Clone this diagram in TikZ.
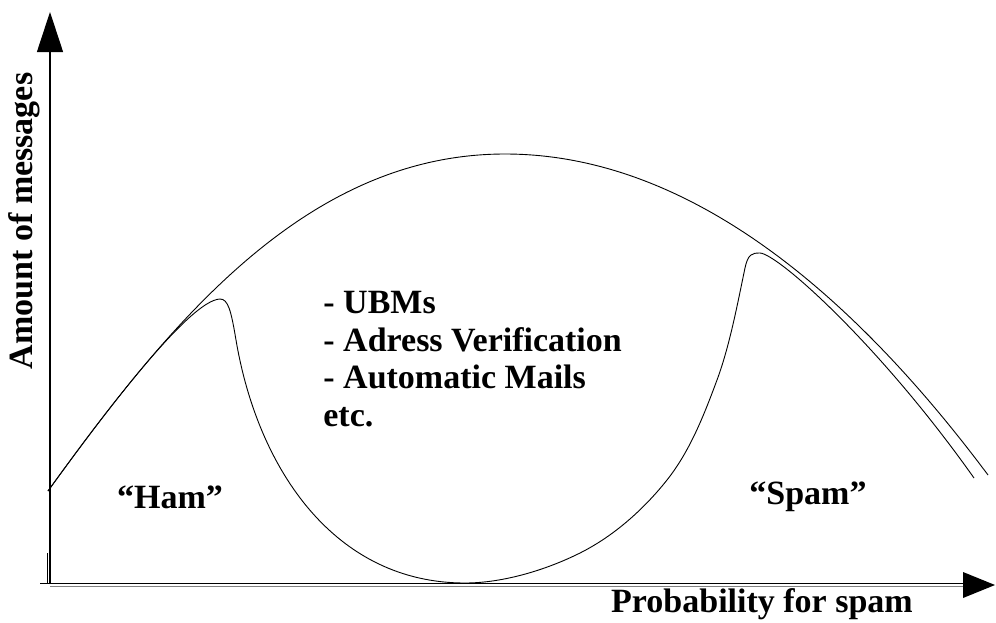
\documentclass[tikz,border=0pt]{standalone}
\usepackage{fontspec}
\setmainfont{Liberation Serif}
\usetikzlibrary{arrows.meta}

\tikzset{
  axis/.style={line width=1.1pt,-{Triangle[length=40pt,width=26pt]}},
  curve/.style={line width=0.9pt},
  lbl/.style={font=\fontsize{34}{37.5}\selectfont\bfseries,inner sep=0pt}
}

\begin{document}
\begin{tikzpicture}[x=1pt,y=-1pt,line width=0.8pt]
\useasboundingbox (0,0) rectangle (996,622);
% axes
\coordinate (origin) at (50,583.5);
\coordinate (ytip) at (50,12);
\coordinate (xtip) at (995,585);
\draw[axis] (50,584) -- (ytip);
\draw (47,553) -- (47,584);
\draw[line width=1.2pt] (40,583.5) -- (origin);
\draw (origin) -- (965,583.5);
\draw[gray] (50,586.5) -- (965,586.5);
\fill (963,572) -- (xtip) -- (963,598) -- cycle;
% all messages
\draw[curve] (48,491) .. controls (168,325) and (305,154) .. (505,154)
  .. controls (675,154) and (838,274) .. (988,475);
% ham and spam
\draw[curve] (48,491) .. controls (105,412) and (190,300) .. (220,299)
  .. controls (228,299) and (231,310) .. (236,340)
  .. controls (258,470) and (335,583) .. (465,583)
  .. controls (503,583) and (546,570) .. (580,553)
  .. controls (614,536) and (644,509) .. (667,480)
  .. controls (690,451) and (704,415) .. (717,380)
  .. controls (730,345) and (738,301) .. (745,268)
  .. controls (748,254) and (752,253) .. (760,253)
  .. controls (778,254) and (880,345) .. (974,478);
% labels
\node[lbl,rotate=90] (amount) at (24,221) {Amount of messages};
\node[lbl] (prob) at (762,604) {Probability for spam};
\node[lbl] (ham) at (170,497) {“Ham”};
\node[lbl] (spam) at (808,497) {“Spam”};
\node[lbl,align=left,anchor=north west] (middle) at (323,291)
  {- UBMs\\- Adress Verification\\- Automatic Mails\\etc.};
\end{tikzpicture}
\end{document}
